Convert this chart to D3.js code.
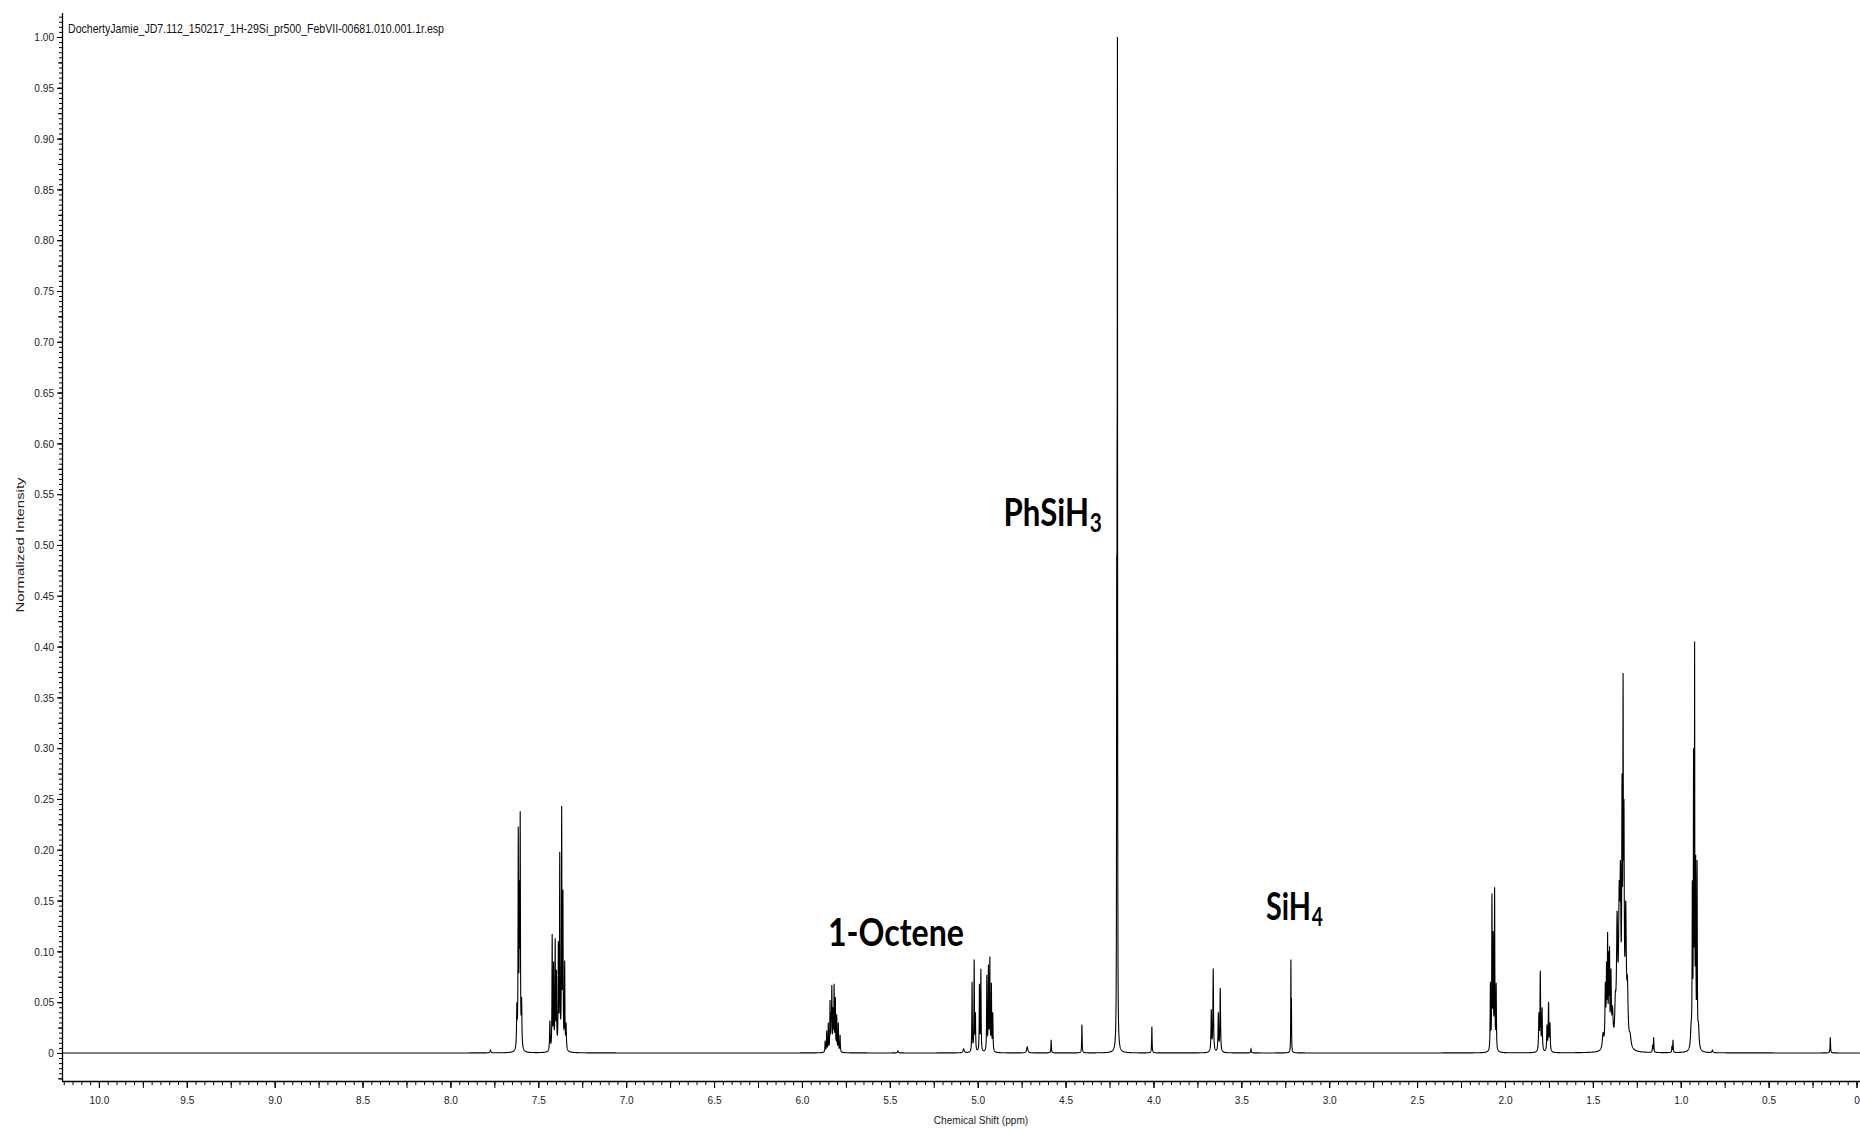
<!DOCTYPE html>
<html>
<head>
<meta charset="utf-8">
<script src="https://cdn.jsdelivr.net/npm/d3@7"></script>
<style>
  html, body { margin: 0; padding: 0; background: #fff; }
  svg { display: block; }
</style>
</head>
<body>
<svg id="chart" width="1860" height="1130"></svg>
<script>
// ---- Peak table: chemical shift (ppm), apex intensity (normalized), line width FWHM (ppm)
const peakShift = [
  7.772,
  7.622, 7.614, 7.608, 7.603, 7.595,
  7.434, 7.421, 7.413, 7.404, 7.397, 7.386, 7.378, 7.367, 7.360, 7.350, 7.342,
  5.868, 5.859, 5.850, 5.840, 5.834, 5.830, 5.823, 5.817, 5.810, 5.802, 5.793, 5.783,
  5.454, 5.080,
  5.032, 5.020, 5.013, 4.990, 4.982, 4.948, 4.939, 4.931, 4.922, 4.914,
  4.718, 4.582, 4.407,
  4.209, 4.207, 4.205,
  4.009,
  3.671, 3.660, 3.631, 3.620,
  3.445,
  3.218, 3.215,
  2.083, 2.074, 2.067, 2.059, 2.050,
  1.807, 1.799, 1.789, 1.761, 1.752, 1.744,
  1.442, 1.429, 1.422, 1.416, 1.410, 1.405, 1.397, 1.388,
  1.372, 1.362, 1.350, 1.343, 1.334, 1.328, 1.323, 1.313, 1.303, 1.288,
  1.160, 1.154, 1.050, 1.044,
  0.941, 0.934, 0.927, 0.921, 0.915, 0.907, 0.899,
  0.820, 0.149
];
const peakHeight = [
  0.003,
  0.050, 0.223, 0.170, 0.238, 0.055,
  0.032, 0.117, 0.090, 0.113, 0.082, 0.110, 0.198, 0.243, 0.161, 0.091, 0.030,
  0.012, 0.022, 0.030, 0.052, 0.040, 0.067, 0.045, 0.068, 0.055, 0.038, 0.030, 0.018,
  0.002, 0.004,
  0.070, 0.092, 0.040, 0.068, 0.083, 0.077, 0.087, 0.095, 0.069, 0.040,
  0.006, 0.013, 0.028,
  0.490, 0.600, 1.000,
  0.026,
  0.043, 0.083, 0.040, 0.064,
  0.004,
  0.092, 0.054,
  0.070, 0.157, 0.120, 0.163, 0.069,
  0.040, 0.081, 0.045, 0.028, 0.0505, 0.030,
  0.020, 0.070, 0.090, 0.119, 0.100, 0.105, 0.083, 0.046,
  0.060, 0.140, 0.170, 0.190, 0.275, 0.374, 0.250, 0.150, 0.075, 0.020,
  0.008, 0.0155, 0.007, 0.013,
  0.030, 0.170, 0.300, 0.405, 0.195, 0.190, 0.030,
  0.003, 0.0155
];
const peakWidth = [
  0.006,
  0.004, 0.003, 0.003, 0.003, 0.004,
  0.004, 0.003, 0.003, 0.003, 0.003, 0.003, 0.003, 0.003, 0.003, 0.003, 0.004,
  0.003, 0.003, 0.003, 0.003, 0.003, 0.003, 0.003, 0.003, 0.003, 0.003, 0.003, 0.003,
  0.006, 0.008,
  0.003, 0.003, 0.003, 0.003, 0.003, 0.003, 0.003, 0.003, 0.003, 0.003,
  0.008, 0.003, 0.003,
  0.002, 0.002, 0.002,
  0.003,
  0.004, 0.004, 0.004, 0.004,
  0.004,
  0.002, 0.002,
  0.003, 0.003, 0.003, 0.003, 0.003,
  0.004, 0.004, 0.004, 0.004, 0.004, 0.004,
  0.010, 0.005, 0.004, 0.003, 0.003, 0.003, 0.005, 0.008,
  0.008, 0.008, 0.008, 0.006, 0.004, 0.003, 0.004, 0.008, 0.008, 0.012,
  0.003, 0.003, 0.003, 0.003,
  0.008, 0.003, 0.003, 0.002, 0.003, 0.003, 0.008,
  0.006, 0.003
];

// ---- Axis labels
const xTickLabels = ["10.0", "9.5", "9.0", "8.5", "8.0", "7.5", "7.0", "6.5", "6.0", "5.5",
  "5.0", "4.5", "4.0", "3.5", "3.0", "2.5", "2.0", "1.5", "1.0", "0.5", "0"];
const yTickLabels = ["0", "0.05", "0.10", "0.15", "0.20", "0.25", "0.30", "0.35", "0.40", "0.45",
  "0.50", "0.55", "0.60", "0.65", "0.70", "0.75", "0.80", "0.85", "0.90", "0.95", "1.00"];

// ---- Species annotations: text, subscript, anchor shift (ppm, left edge), anchor intensity (baseline)
const annotationText = ["1-Octene", "PhSiH", "SiH"];
const annotationSub = ["", "3", "4"];
const annotationShift = [5.852, 4.853, 3.360];
const annotationLevel = [0.105, 0.519, 0.131];

const fileTitle = "DochertyJamie_JD7.112_150217_1H-29Si_pr500_FebVII-00681.010.001.1r.esp";

// ---- Layout
const plot = { left: 62, right: 1860, top: 13, bottom: 1081 };
const FONT = "'Liberation Sans', Arial, sans-serif";
const BOLD_FONT = "Lato, 'Open Sans', sans-serif";

const svg = d3.select("#chart");
const x = d3.scaleLinear().domain([10.21, -0.02]).range([plot.left, plot.right]);
const y = d3.scaleLinear().domain([-0.0276, 1.0236]).range([plot.bottom, plot.top]);

// Squeeze text horizontally to the narrow face used by the spectrometer software
function squeeze(sel, f) {
  sel.each(function () {
    const w = this.getComputedTextLength();
    if (w > 0) {
      this.setAttribute("textLength", (w * f).toFixed(2));
      this.setAttribute("lengthAdjust", "spacingAndGlyphs");
    }
  });
}

// ---- Lorentzian line model; amplitudes solved so that each listed apex matches its height
const nPk = peakShift.length;
const hw = peakWidth.map(w => w / 2);
function shape(j, v) {
  const d = (v - peakShift[j]) / hw[j];
  return 1 / (1 + d * d);
}
const amp = peakHeight.slice();
for (let it = 0; it < 400; it++) {
  for (let i = 0; i < nPk; i++) {
    let s = 0;
    for (let j = 0; j < nPk; j++) if (j !== i) s += amp[j] * shape(j, peakShift[i]);
    amp[i] = Math.max(0, peakHeight[i] - s);
  }
}

// Sample grid over the displayed window, including every line centre
const step = 0.0005;
const grid = [];
for (let v = 10.21; v >= -0.02; v -= step) grid.push(+v.toFixed(5));
peakShift.forEach(p => grid.push(p));
grid.sort((a, b) => b - a);

const spectrum = grid.map(v => {
  let s = 0;
  for (let j = 0; j < nPk; j++) {
    const d = (v - peakShift[j]) / hw[j];
    s += amp[j] / (1 + d * d);
  }
  return [v, s];
});

// ---- Clip to plot area
svg.append("defs").append("clipPath").attr("id", "plotClip")
  .append("rect")
  .attr("x", plot.left).attr("y", 0)
  .attr("width", plot.right - plot.left).attr("height", plot.bottom);

// ---- Spectrum trace
const line = d3.line().x(d => x(d[0])).y(d => y(d[1]));
svg.append("path")
  .datum(spectrum)
  .attr("clip-path", "url(#plotClip)")
  .attr("fill", "none")
  .attr("stroke", "#000")
  .attr("stroke-width", 1.1)
  .attr("d", line);

// ---- Y axis
const yMinor = d3.range(-25, 1021, 5).map(k => k / 1000);
const yMid = d3.range(-25, 1021, 25).map(k => k / 1000);
const yMajor = yTickLabels.map(Number);

const gyMinor = svg.append("g").attr("transform", `translate(${plot.left},0)`)
  .call(d3.axisLeft(y).tickValues(yMinor).tickSize(3).tickSizeOuter(0).tickFormat(""));
gyMinor.select(".domain").remove();
const gyMid = svg.append("g").attr("transform", `translate(${plot.left},0)`)
  .call(d3.axisLeft(y).tickValues(yMid).tickSize(4).tickSizeOuter(0).tickFormat(""));
gyMid.select(".domain").remove();
const gy = svg.append("g").attr("transform", `translate(${plot.left},0)`)
  .call(d3.axisLeft(y).tickValues(yMajor).tickSize(5).tickSizeOuter(0).tickPadding(3)
    .tickFormat((d, i) => yTickLabels[i]));
gy.select(".domain").attr("d", `M0.5,${plot.top}V${plot.bottom}`);

// ---- X axis
const xMinor = d3.range(0, 1021, 5).map(k => k / 100);
const xMid = d3.range(0, 1001, 25).map(k => k / 100);
const xMajor = xTickLabels.map(Number);

const gxMinor = svg.append("g").attr("transform", `translate(0,${plot.bottom})`)
  .call(d3.axisBottom(x).tickValues(xMinor).tickSize(4).tickSizeOuter(0).tickFormat(""));
gxMinor.select(".domain").remove();
const gxMid = svg.append("g").attr("transform", `translate(0,${plot.bottom})`)
  .call(d3.axisBottom(x).tickValues(xMid).tickSize(7).tickSizeOuter(0).tickFormat(""));
gxMid.select(".domain").remove();
const gx = svg.append("g").attr("transform", `translate(0,${plot.bottom})`)
  .call(d3.axisBottom(x).tickValues(xMajor).tickSize(7).tickSizeOuter(0).tickPadding(8)
    .tickFormat((d, i) => xTickLabels[i]));
gx.select(".domain").attr("d", `M${plot.left},0.5H${plot.right}`);

svg.selectAll(".tick line").attr("stroke", "#000");
svg.selectAll(".domain").attr("stroke", "#000").attr("stroke-width", 1.3);
[gx, gy].forEach(g => g.selectAll(".tick text")
  .attr("font-family", FONT).attr("font-size", 11.5).attr("fill", "#222"));
squeeze(gx.selectAll(".tick text"), 0.88);
squeeze(gy.selectAll(".tick text"), 0.88);

// ---- Axis titles
svg.append("text")
  .attr("x", (plot.left + plot.right) / 2 + 20).attr("y", 1124)
  .attr("text-anchor", "middle")
  .attr("font-family", FONT).attr("font-size", 11).attr("fill", "#222")
  .text("Chemical Shift (ppm)")
  .call(s => squeeze(s, 0.92));

svg.append("text")
  .attr("transform", `translate(24,${545}) rotate(-90)`)
  .attr("text-anchor", "middle")
  .attr("font-family", FONT).attr("font-size", 11).attr("fill", "#222")
  .attr("textLength", 135).attr("lengthAdjust", "spacingAndGlyphs")
  .text("Normalized Intensity");

// ---- File name
svg.append("text")
  .attr("x", 68).attr("y", 33)
  .attr("font-family", FONT).attr("font-size", 13.5).attr("fill", "#111")
  .attr("textLength", 376).attr("lengthAdjust", "spacingAndGlyphs")
  .text(fileTitle);

// ---- Species annotations (formula subscripts as tspans of the same label),
// condensed horizontally so the main part spans its target width
const mainWidths = [136, 85.5, 45];
annotationText.forEach((t, i) => {
  const ax = x(annotationShift[i]);
  const ay = y(annotationLevel[i]);
  const label = svg.append("text")
    .attr("x", 0).attr("y", 0)
    .attr("font-family", BOLD_FONT).attr("font-weight", 700)
    .attr("font-size", 39).attr("fill", "#000");
  const mainPart = label.append("tspan").text(t);
  if (annotationSub[i]) {
    label.append("tspan")
      .attr("dx", 1).attr("dy", 6)
      .attr("font-size", 26)
      .text(annotationSub[i]);
  }
  const natural = mainPart.node().getComputedTextLength();
  const sx = natural > 0 ? mainWidths[i] / natural : 1;
  label.attr("transform", `translate(${ax},${ay}) scale(${sx.toFixed(4)},1)`);
});
</script>
</body>
</html>
